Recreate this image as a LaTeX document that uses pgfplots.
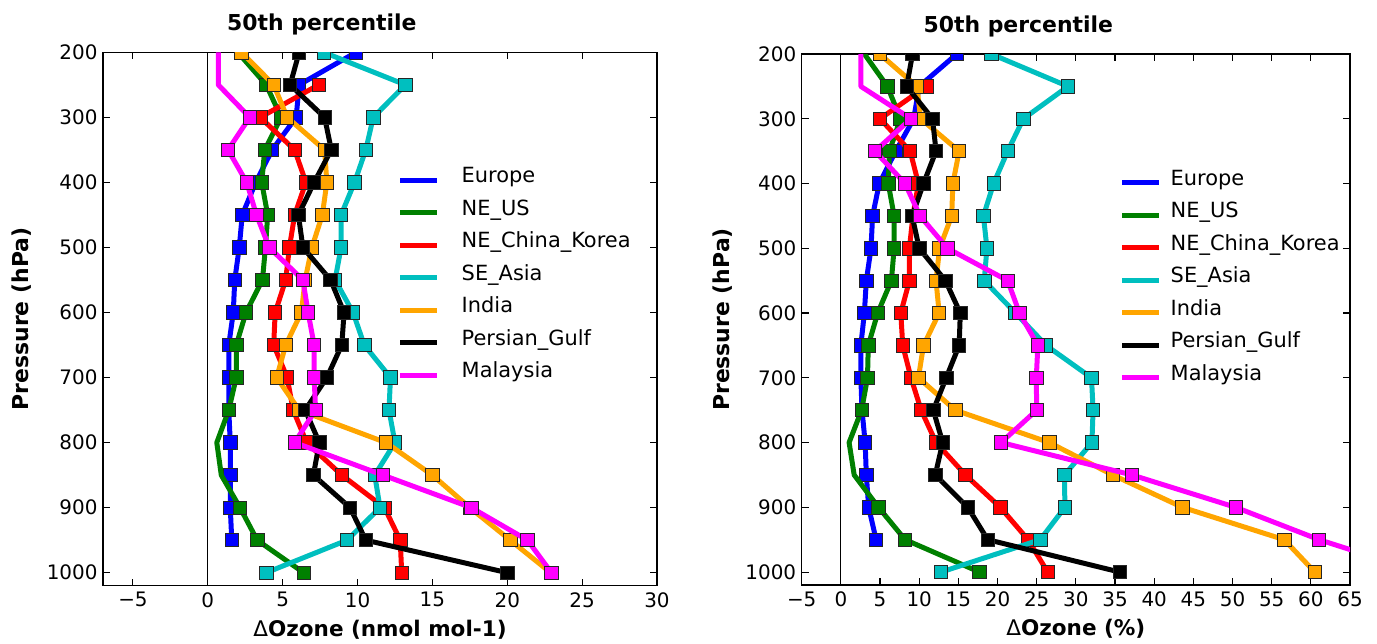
\documentclass[border=0pt]{standalone}
\usepackage{fontspec}
\setmainfont{DejaVu Sans}
\usepackage{pgfplots}
\usepackage{pgfplotstable}
\pgfplotsset{compat=1.18}

\definecolor{cB}{RGB}{0,0,255}
\definecolor{cG}{RGB}{0,128,0}
\definecolor{cR}{RGB}{255,0,0}
\definecolor{cC}{RGB}{0,191,191}
\definecolor{cO}{RGB}{255,165,0}
\definecolor{cK}{RGB}{0,0,0}
\definecolor{cM}{RGB}{255,0,255}

% left panel: Delta ozone (nmol mol-1); *m columns = points that carry a marker
\pgfplotstableread{
p eu us usm cn sea ind pg my mym
200 9.9 2.0 nan nan 7.75 2.25 6.1 0.7 nan
250 6.1 3.9 3.9 7.4 13.2 4.4 5.5 0.7 nan
300 5.9 4.9 4.9 3.5 11.05 5.3 7.8 2.8 2.8
350 4.3 3.8 3.8 5.8 10.55 7.8 8.25 1.35 1.35
400 3.2 3.6 3.6 6.55 9.8 7.95 7.1 2.6 2.6
450 2.3 4.0 4.0 5.8 8.9 7.65 6.05 3.25 3.25
500 2.1 3.85 3.85 5.45 8.9 6.95 6.35 4.1 4.1
550 1.8 3.65 3.65 5.2 8.5 6.5 8.2 6.35 6.35
600 1.7 2.55 2.55 4.5 9.7 6.25 9.1 6.7 6.7
650 1.4 1.9 1.9 4.4 10.45 5.2 8.95 7.1 7.1
700 1.4 1.9 1.9 5.3 12.2 4.6 7.95 7.1 7.1
750 1.4 1.4 1.4 5.7 12.1 6.1 6.5 7.2 7.2
800 1.5 0.6 nan 6.6 12.5 11.9 7.45 5.8 5.8
850 1.5 0.9 nan 8.95 11.15 15.0 7.05 11.7 11.7
900 1.5 2.15 2.15 11.8 11.5 17.5 9.5 17.6 17.6
950 1.6 3.3 3.3 12.85 9.3 20.2 10.55 21.35 21.35
1000 nan 6.4 6.4 12.95 3.9 22.9 20.0 22.95 22.95
}\tabL

% right panel: Delta ozone (%)
\pgfplotstableread{
p eu us usm cn sea ind pg my mym
200 14.8 3.0 nan nan 19.2 4.95 9.15 2.55 nan
250 10.0 5.95 5.95 10.9 29.0 9.7 8.4 2.55 nan
300 9.3 7.6 7.6 5.0 23.3 10.2 11.7 8.95 8.95
350 7.0 6.2 6.2 8.85 21.3 15.1 12.15 4.35 4.35
400 4.9 6.05 6.05 9.9 19.5 14.3 10.55 8.2 8.2
450 4.05 6.8 6.8 9.2 18.2 14.15 9.1 10.1 10.1
500 3.85 6.8 6.8 8.75 18.65 12.6 10.0 13.6 13.6
550 3.25 6.45 6.45 8.75 18.3 12.15 13.35 21.3 21.3
600 3.0 4.7 4.7 7.65 22.3 12.55 15.25 22.8 22.8
650 2.55 3.5 3.5 7.9 26.2 10.55 15.1 25.15 25.15
700 2.55 3.4 3.4 8.95 32.0 9.9 13.45 24.95 24.95
750 2.7 2.65 2.65 10.25 32.2 14.6 11.8 25.0 25.0
800 3.1 1.05 nan 12.15 32.05 26.6 13.0 20.45 20.45
850 3.25 1.7 nan 15.9 28.55 34.7 12.05 37.15 37.15
900 3.55 4.8 4.8 20.35 28.6 43.6 16.2 50.4 50.4
950 4.5 8.2 8.2 23.9 25.45 56.6 18.75 61.05 61.05
1000 nan 17.7 17.7 26.4 12.8 60.5 35.6 74.0 nan
}\tabR

\pgfplotsset{
  ln/.style={color=#1, line width=5bp, line join=round, mark=none},
  mk/.style={forget plot, color=#1, only marks, mark=square*, mark size=6.7bp,
    mark options={solid, fill=#1, draw=black!85, line width=0.8bp}},
  panel/.style={
    scale only axis, anchor=south west,
    ymin=200, ymax=1020, y dir=reverse,
    ytick={200,300,...,1000},
    yticklabels={200,300,400,500,600,700,800,900,1000},
    tick align=inside, major tick length=7bp,
    axis line style={line width=1.2bp, black},
    every tick/.style={black, line width=1.1bp},
    clip marker paths=true,
    /pgf/number format/assume math mode=true,
    ticklabel style={font=\fontsize{20}{24}\selectfont},
    xticklabel style={yshift=-3bp},
    yticklabel style={xshift=-2bp},
    title style={at={(axis description cs:0.395,1)}, anchor=center, yshift=21.5bp,
      font=\fontsize{22}{26}\selectfont\bfseries},
    xlabel style={at={(axis description cs:0.5,0)}, anchor=center, yshift=-44bp,
      font=\fontsize{21.6}{26}\selectfont\bfseries},
    ylabel style={at={(axis description cs:0,0.5)}, anchor=center,
      font=\fontsize{22}{26}\selectfont\bfseries},
    legend cell align=left,
    legend image code/.code={\draw[##1] (0bp,-3bp) -- (37bp,-3bp);},
    legend style={draw=none, fill=none, inner sep=0pt, outer sep=0pt, anchor=north west,
      font=\fontsize{21}{25}\selectfont, row sep=11.5bp,
      nodes={inner sep=0pt, text height=16bp, text depth=5bp}},
  },
}

\begin{document}
\begin{tikzpicture}
\useasboundingbox (0,0) rectangle (1377bp,644bp);

\begin{axis}[panel, at={(103bp,58.3bp)}, width=554bp, height=533.4bp,
  xmin=-7, xmax=30,
  xtick={-5,0,5,10,15,20,25,30},
  xticklabels={−5,0,5,10,15,20,25,30},
  title={50th percentile},
  xlabel={{\mdseries Δ}Ozone (nmol mol-1)},
  ylabel={Pressure (hPa)},
  ylabel style={yshift=81.6bp},
  legend style={at={(axis description cs:0.532,0.785)}, column sep=22bp},
]
\addplot[black, line width=1bp, forget plot] coordinates {(0,200) (0,1020)};
\addplot[ln=cB] table[x=eu, y=p] {\tabL}; \addlegendentry{Europe}
\addplot[mk=cB] table[x=eu, y=p] {\tabL};
\addplot[ln=cG] table[x=us, y=p] {\tabL}; \addlegendentry{NE\_US}
\addplot[mk=cG] table[x=usm, y=p] {\tabL};
\addplot[ln=cR] table[x=cn, y=p] {\tabL}; \addlegendentry{NE\_China\_Korea}
\addplot[mk=cR] table[x=cn, y=p] {\tabL};
\addplot[ln=cC] table[x=sea, y=p] {\tabL}; \addlegendentry{SE\_Asia}
\addplot[mk=cC] table[x=sea, y=p] {\tabL};
\addplot[ln=cO] table[x=ind, y=p] {\tabL}; \addlegendentry{India}
\addplot[mk=cO] table[x=ind, y=p] {\tabL};
\addplot[ln=cK] table[x=pg, y=p] {\tabL}; \addlegendentry{Persian\_Gulf}
\addplot[mk=cK] table[x=pg, y=p] {\tabL};
\addplot[ln=cM] table[x=my, y=p] {\tabL}; \addlegendentry{Malaysia}
\addplot[mk=cM] table[x=mym, y=p] {\tabL};
\end{axis}

\begin{axis}[panel, at={(801.7bp,59bp)}, width=548.3bp, height=531bp,
  xmin=-5, xmax=65,
  xtick={-5,0,5,10,15,20,25,30,35,40,45,50,55,60,65},
  xticklabels={−5,0,5,10,15,20,25,30,35,40,45,50,55,60,65},
  title={50th percentile},
  xlabel={{\mdseries Δ}Ozone (\%)},
  ylabel={Pressure (hPa)},
  ylabel style={yshift=79.3bp},
  legend style={at={(axis description cs:0.580,0.783)}, column sep=9bp},
]
\addplot[black, line width=1bp, forget plot] coordinates {(0,200) (0,1020)};
\addplot[ln=cB] table[x=eu, y=p] {\tabR}; \addlegendentry{Europe}
\addplot[mk=cB] table[x=eu, y=p] {\tabR};
\addplot[ln=cG] table[x=us, y=p] {\tabR}; \addlegendentry{NE\_US}
\addplot[mk=cG] table[x=usm, y=p] {\tabR};
\addplot[ln=cR] table[x=cn, y=p] {\tabR}; \addlegendentry{NE\_China\_Korea}
\addplot[mk=cR] table[x=cn, y=p] {\tabR};
\addplot[ln=cC] table[x=sea, y=p] {\tabR}; \addlegendentry{SE\_Asia}
\addplot[mk=cC] table[x=sea, y=p] {\tabR};
\addplot[ln=cO] table[x=ind, y=p] {\tabR}; \addlegendentry{India}
\addplot[mk=cO] table[x=ind, y=p] {\tabR};
\addplot[ln=cK] table[x=pg, y=p] {\tabR}; \addlegendentry{Persian\_Gulf}
\addplot[mk=cK] table[x=pg, y=p] {\tabR};
\addplot[ln=cM] table[x=my, y=p] {\tabR}; \addlegendentry{Malaysia}
\addplot[mk=cM] table[x=mym, y=p] {\tabR};
\end{axis}
\end{tikzpicture}
\end{document}
